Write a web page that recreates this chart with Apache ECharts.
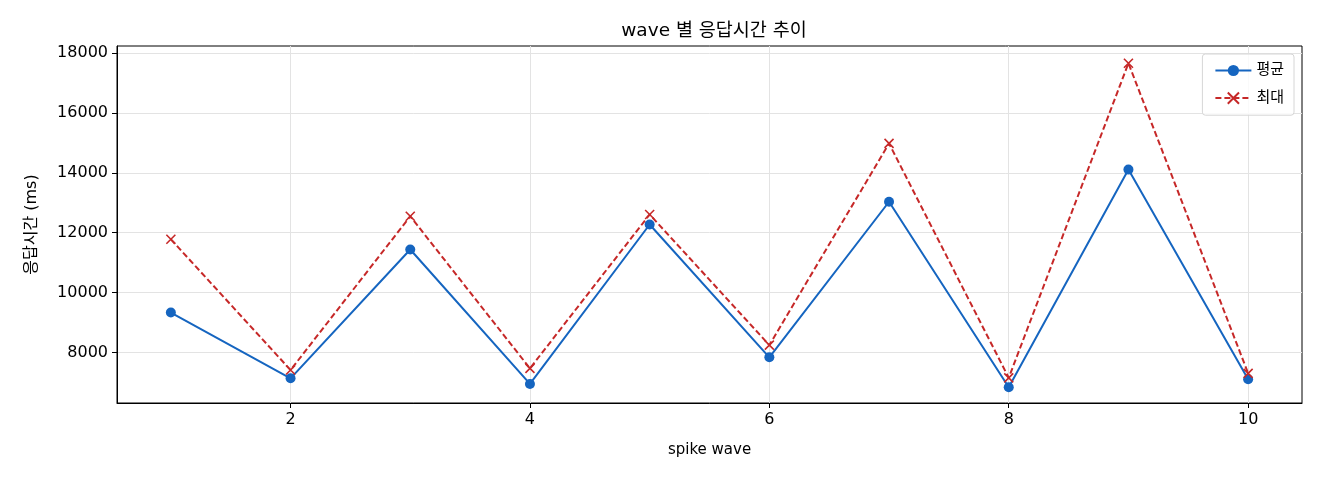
<!DOCTYPE html>
<html>
<head>
<meta charset="utf-8">
<script src="https://cdn.jsdelivr.net/npm/echarts@6/dist/echarts.min.js"></script>
<style>
html,body{margin:0;padding:0;background:#fff;}
#main{width:1320px;height:480px;}
</style>
</head>
<body>
<div id="main"></div>
<script>
var waves = [1, 2, 3, 4, 5, 6, 7, 8, 9, 10];
var avgMs = [9333, 7133, 11440, 6945, 12275, 7835, 13035, 6835, 14110, 7100];
var maxMs = [11780, 7410, 12550, 7465, 12610, 8243, 14985, 7150, 17667, 7300];
var xTicks = [2, 4, 6, 8, 10];
var yTicks = [8000, 10000, 12000, 14000, 16000, 18000];

var font = '"DejaVu Sans", "Noto Sans CJK KR", sans-serif';

function pairs(ys) {
    var out = [];
    for (var i = 0; i < waves.length; i++) out.push([waves[i], ys[i]]);
    return out;
}

var myChart = echarts.init(document.getElementById('main'), null, {renderer: 'canvas'});
var option = {
    backgroundColor: '#fff',
    animation: false,
    title: {
        text: 'wave 별 응답시간 추이',
        left: 709,
        textAlign: 'center',
        top: 17,
        textStyle: {color: '#000', fontSize: 18.5, fontWeight: 'normal', fontFamily: font}
    },
    legend: {
        orient: 'vertical',
        right: 26,
        top: 54,
        padding: [9, 10, 9, 12],
        itemGap: 12,
        itemWidth: 36,
        itemHeight: 14,
        borderColor: '#d6d6d6',
        borderWidth: 1,
        borderRadius: 3,
        backgroundColor: 'rgba(255,255,255,0.8)',
        textStyle: {color: '#000', fontSize: 15, fontFamily: font},
        data: ['평균', '최대']
    },
    grid: {
        left: 117, right: 18, top: 46, bottom: 77,
        show: true, borderColor: '#000', borderWidth: 1
    },
    xAxis: {
        type: 'value',
        min: 0.55,
        max: 10.45,
        name: 'spike wave',
        nameLocation: 'middle',
        nameGap: 40,
        nameTextStyle: {color: '#000', fontSize: 15, fontFamily: font},
        axisLine: {show: true, lineStyle: {color: '#000', width: 1}},
        axisTick: {show: true, length: 5, lineStyle: {color: '#000'}, customValues: xTicks},
        axisLabel: {color: '#000', fontSize: 16, fontFamily: font, margin: 9, customValues: xTicks},
        splitLine: {show: true, lineStyle: {color: '#e3e3e3', width: 1}}
    },
    yAxis: {
        type: 'value',
        min: 6308,
        max: 18242,
        name: '응답시간 (ms)',
        nameLocation: 'middle',
        nameGap: 77,
        nameTextStyle: {color: '#000', fontSize: 16, fontFamily: font},
        axisLine: {show: true, lineStyle: {color: '#000', width: 1}},
        axisTick: {show: true, length: 5, lineStyle: {color: '#000'}, customValues: yTicks},
        axisLabel: {
            color: '#000', fontSize: 16, fontFamily: font, margin: 9, customValues: yTicks,
            formatter: function (v) { return String(v); }
        },
        splitLine: {show: true, lineStyle: {color: '#e3e3e3', width: 1}}
    },
    series: [{
        name: '평균',
        type: 'line',
        data: pairs(avgMs),
        symbol: 'circle',
        symbolSize: 10,
        lineStyle: {color: '#1565c0', width: 2},
        itemStyle: {color: '#1565c0'}
    }, {
        name: '최대',
        type: 'line',
        data: pairs(maxMs),
        symbol: 'path://M0,0L10,10M10,0L0,10',
        symbolSize: 9,
        lineStyle: {color: '#c62828', width: 2, type: [6, 3]},
        itemStyle: {color: 'none', borderColor: '#c62828', borderWidth: 1.6}
    }]
};
myChart.setOption(option);
</script>
</body>
</html>
